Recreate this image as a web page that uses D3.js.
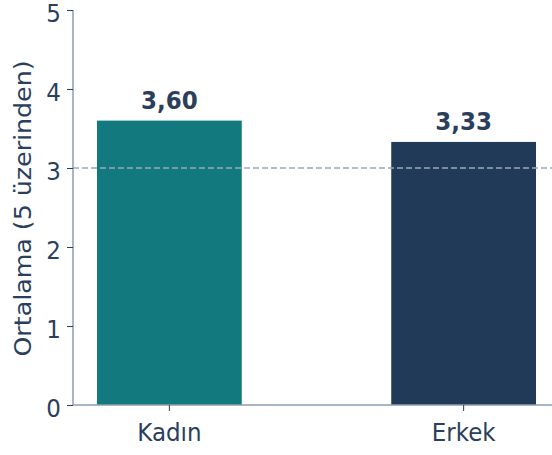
<!DOCTYPE html>
<html>
<head>
<meta charset="utf-8">
<script src="https://cdn.jsdelivr.net/npm/d3@7"></script>
<style>
  body { margin: 0; background: #fff; }
  text { font-family: "DejaVu Sans", sans-serif; }
</style>
</head>
<body>
<svg id="chart" width="552" height="455"></svg>
<script>
// data
const groups = ["Kadın", "Erkek"];
const means = [3.60, 3.33];
const barColors = ["#127a7e", "#213a57"];
const yTicks = [0, 1, 2, 3, 4, 5];
const refLine = 3;

const textColor = "#2b3f5c";
const axisColor = "#8d9db2";
const fontSize = 23;
const stretch = "scale(1,1.1)"; //the reference looks a bit taller than wide

let svg = d3.select("#chart");

//Scales
let x = d3.scaleBand().domain(groups).range([73, 560])
    .paddingInner(0.508).paddingOuter(0.0815);
let y = d3.scaleLinear().domain([0, 5]).range([405, 10]);

//Bars
svg.selectAll("rect.bar")
    .data(groups)
  .enter().append("rect")
    .attr("class", "bar")
    .attr("x", d => x(d))
    .attr("width", x.bandwidth())
    .attr("y", (d,i) => y(means[i]))
    .attr("height", (d,i) => y(0) - y(means[i]))
    .style("fill", (d,i) => barColors[i]);

//Reference dashed line, drawn over the bars
svg.append("line")
    .attr("x1", 73).attr("x2", 552)
    .attr("y1", y(refLine)).attr("y2", y(refLine))
    .attr("stroke", "#9aa8ba")
    .attr("stroke-width", 1.3)
    .attr("stroke-dasharray", "6,3");

//Value labels
svg.selectAll("text.val")
    .data(groups)
  .enter().append("text")
    .attr("class", "val")
    .attr("transform", (d,i) => `translate(${x(d) + x.bandwidth()/2},${y(means[i]) - 12}) ${stretch}`)
    .attr("text-anchor", "middle")
    .style("font-size", fontSize + "px")
    .style("font-weight", "bold")
    .style("fill", textColor)
    .text((d,i) => means[i].toFixed(2).replace(".", ","));

//Axes
let yAxis = svg.append("g")
    .attr("transform", "translate(73,0)")
    .call(d3.axisLeft(y).tickValues(yTicks).tickSize(6).tickFormat(d3.format("d")));
let xAxis = svg.append("g")
    .attr("transform", `translate(0,${y(0)})`)
    .call(d3.axisBottom(x).tickSize(6).tickSizeOuter(0));

[yAxis, xAxis].forEach(g => {
  g.select(".domain").attr("stroke", axisColor).attr("stroke-width", 1.5);
  g.selectAll(".tick line").attr("stroke", textColor).attr("stroke-width", 1);
  g.selectAll(".tick text").style("fill", textColor).style("font-size", fontSize + "px")
      .style("font-family", "DejaVu Sans, sans-serif");
});
yAxis.select(".domain").attr("d", `M0,${y(5)}V${y(0)}`);
xAxis.select(".domain").attr("d", `M73,0H552`);

yAxis.selectAll(".tick text")
    .attr("x", null).attr("dy", "0.44em")
    .attr("transform", `translate(-12,0) ${stretch}`);
xAxis.selectAll(".tick text")
    .attr("y", null).attr("dy", "0.71em")
    .attr("transform", `translate(0,18) ${stretch}`);

//Y label
svg.append("text")
    .attr("transform", `translate(31,208.5) ${stretch} rotate(-90)`)
    .attr("text-anchor", "middle")
    .style("font-size", fontSize + "px")
    .style("fill", textColor)
    .text("Ortalama (5 üzerinden)");
</script>
</body>
</html>
